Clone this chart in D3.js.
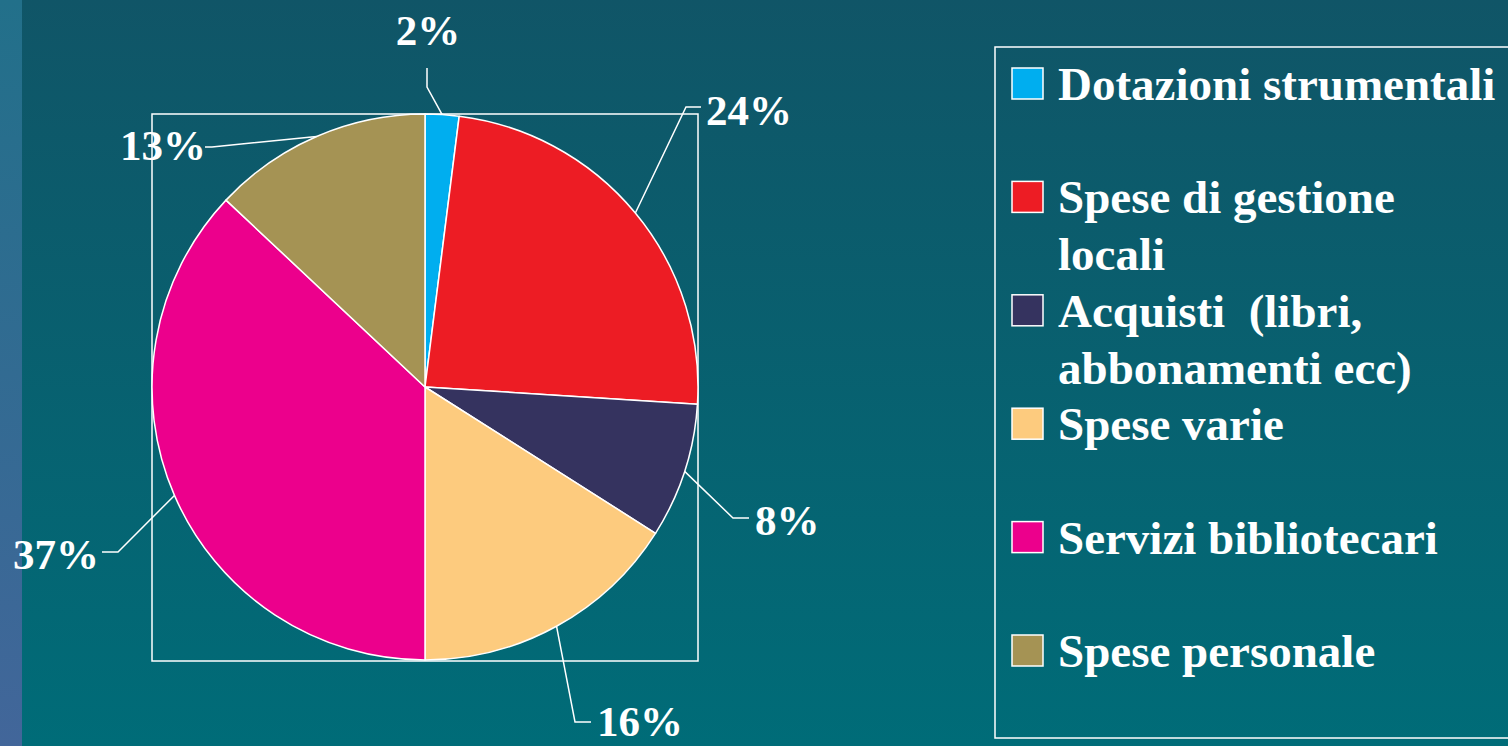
<!DOCTYPE html>
<html>
<head>
<meta charset="utf-8">
<script src="https://cdn.jsdelivr.net/npm/d3@7"></script>
<style>
  html, body { margin: 0; padding: 0; overflow: hidden; }
  svg { display: block; }
  text { font-family: "Liberation Serif", "Times New Roman", serif; font-weight: bold; fill: #fff; white-space: pre; }
</style>
</head>
<body>
<svg id="chart"></svg>
<script>
// data
const categories = ['Dotazioni strumentali', 'Spese di gestione locali', 'Acquisti  (libri, abbonamenti ecc)', 'Spese varie', 'Servizi bibliotecari', 'Spese personale']
const legendLines = [['Dotazioni strumentali'], ['Spese di gestione', 'locali'], ['Acquisti  (libri,', 'abbonamenti ecc)'], ['Spese varie'], ['Servizi bibliotecari'], ['Spese personale']]
const values = [0.02, 0.24, 0.08, 0.16, 0.37, 0.13]
const colors = ['#00aeef', '#ed1c24', '#35335f', '#fdcb7e', '#ec008c', '#a59354']

// leader line layout (elbow / end offsets from pie centre), label anchor
const leaders = [
    { elbow: [2, -300], end: [2, -319], anchor: 'middle', dx: 1, dy: -23 },
    { elbow: [261, -280], end: [276, -280], anchor: 'start', dx: 5, dy: 18 },
    { elbow: [308, 131], end: [324, 131], anchor: 'start', dx: 6, dy: 17 },
    { elbow: [150, 335], end: [166, 335], anchor: 'start', dx: 6, dy: 14 },
    { elbow: [-307, 165], end: [-323, 165], anchor: 'end', dx: -3, dy: 17 },
    { elbow: [-213, -240], end: [-220, -240], anchor: 'end', dx: 1, dy: 13 }
]

const width = 1508
const height = 746
const cx = 425
const cy = 387
const radius = 273

//set up svg container
const svg = d3.select('#chart')
    .attr('width', width)
    .attr('height', height)

const defs = svg.append('defs')
const bg = defs.append('linearGradient').attr('id', 'bg').attr('x1', 0).attr('y1', 0).attr('x2', 0).attr('y2', 1)
bg.append('stop').attr('offset', '0%').attr('stop-color', '#105567')
bg.append('stop').attr('offset', '100%').attr('stop-color', '#006c78')
const strip = defs.append('linearGradient').attr('id', 'strip').attr('x1', 0).attr('y1', 0).attr('x2', 0).attr('y2', 1)
strip.append('stop').attr('offset', '0%').attr('stop-color', '#22708a')
strip.append('stop').attr('offset', '100%').attr('stop-color', '#42669a')

svg.append('rect').attr('width', width).attr('height', height).attr('fill', 'url(#bg)')
svg.append('rect').attr('width', 22).attr('height', height).attr('fill', 'url(#strip)')

// plot area frame
svg.append('rect')
    .attr('x', cx - radius).attr('y', cy - radius)
    .attr('width', radius * 2).attr('height', radius * 2 + 1)
    .attr('fill', 'none').attr('stroke', '#fff').attr('stroke-width', 1.5)

// set up chart
const pie = d3.pie().sort(null).value(d => d)(values)
const arcGenerator = d3.arc().innerRadius(0).outerRadius(radius)
const color = d3.scaleOrdinal().domain(categories).range(colors)
const fmt = d3.format('.0%')

const g = svg.append('g').attr('transform', `translate(${cx},${cy})`)

g.selectAll('path')
    .data(pie)
    .join('path')
    .attr('d', arcGenerator)
    .attr('fill', (d, i) => color(categories[i]))
    .attr('stroke', '#fff')
    .attr('stroke-width', 1.5)
    .attr('stroke-linejoin', 'round')

// leader lines
const mid = d => (d.startAngle + d.endAngle) / 2
g.selectAll('polyline')
    .data(pie)
    .join('polyline')
    .attr('points', (d, i) => {
        const a = mid(d)
        const s = [radius * Math.sin(a), -radius * Math.cos(a)]
        return [s, leaders[i].elbow, leaders[i].end].map(p => p.join(',')).join(' ')
    })
    .attr('fill', 'none')
    .attr('stroke', '#fff')
    .attr('stroke-width', 1.5)

g.selectAll('text.pct')
    .data(pie)
    .join('text')
    .attr('class', 'pct')
    .attr('x', (d, i) => leaders[i].end[0] + leaders[i].dx)
    .attr('y', (d, i) => leaders[i].end[1] + leaders[i].dy)
    .attr('text-anchor', (d, i) => leaders[i].anchor)
    .style('font-size', '43px')
    .text(d => fmt(d.data))

// legend
svg.append('rect')
    .attr('x', 995).attr('y', 47)
    .attr('width', 600).attr('height', 691)
    .attr('fill', 'none').attr('stroke', '#fff').attr('stroke-width', 1.5)

const rowY = d3.scaleLinear().domain([0, categories.length - 1]).range([100, 667])

const item = svg.selectAll('g.legend')
    .data(categories)
    .join('g')
    .attr('class', 'legend')
    .attr('transform', (d, i) => `translate(1012,${rowY(i)})`)

item.append('rect')
    .attr('x', 0).attr('y', -32)
    .attr('width', 31).attr('height', 31)
    .attr('fill', d => color(d))
    .attr('stroke', '#fff').attr('stroke-width', 1.5)

item.append('text')
    .attr('x', 46)
    .style('font-size', '47px')
    .selectAll('tspan')
    .data((d, i) => legendLines[i])
    .join('tspan')
    .attr('x', 46)
    .attr('dy', (d, j) => j === 0 ? 0 : 57)
    .text(d => d)
</script>
</body>
</html>
